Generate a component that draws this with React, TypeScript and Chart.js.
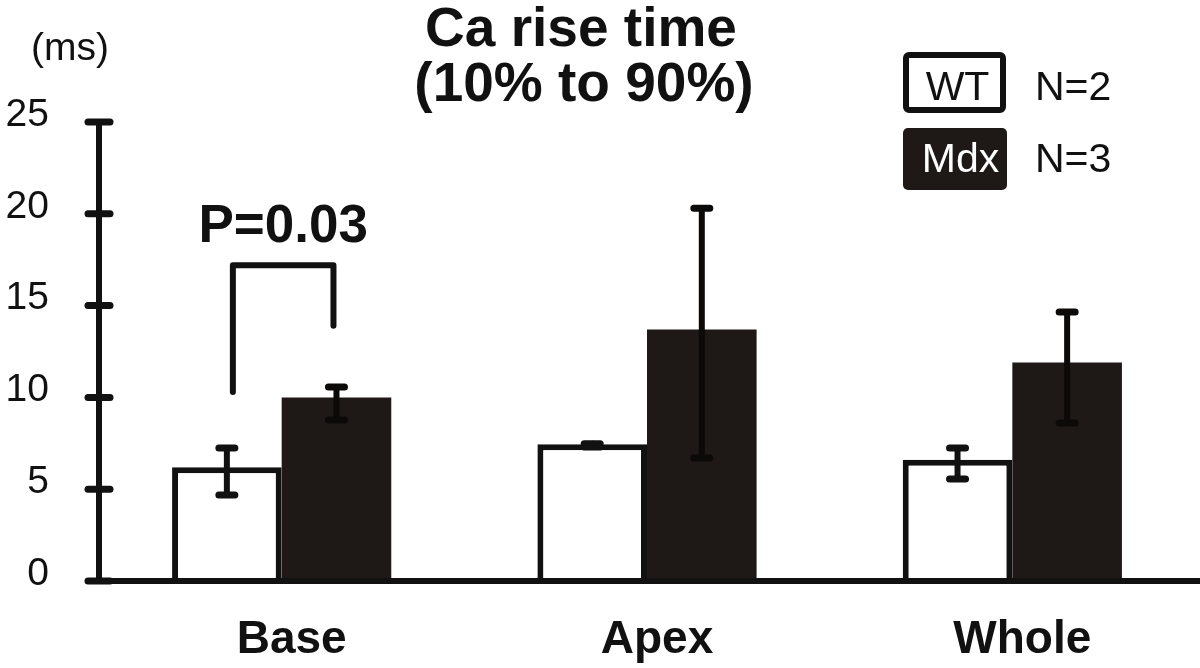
import React, { useEffect, useRef } from "react";
import { Chart, registerables } from "chart.js";

Chart.register(...registerables);

// ---- data ----
const categories = ["Base", "Apex", "Whole"];
const wtMeans = [6.2, 7.45, 6.6];
const mdxMeans = [10.0, 13.7, 11.9];
const wtErrHigh = [7.25, 7.48, 7.25];
const wtErrLow = [4.68, 7.3, 5.55];
const mdxErrHigh = [10.57, 20.3, 14.65];
const mdxErrLow = [8.77, 6.7, 8.6];
const yMin = 0;
const yMax = 25;
const yStep = 5;
const bracketValues = [10.3, 17.2, 13.9]; // left leg bottom, top, right leg bottom
const titleLines = ["Ca rise time", "(10% to 90%)"];
const unitLabel = "(ms)";
const pLabel = "P=0.03";
const legendLabels = ["WT", "Mdx"];
const legendCounts = ["N=2", "N=3"];

// ---- style ----
const INK = "#111111";
const MDX_FILL = "#1e1816";
const FONT = "'Liberation Sans', Arial, Helvetica, sans-serif";

const decor = {
  id: "decor",
  afterDatasetsDraw(chart: any) {
    const ctx = chart.ctx as CanvasRenderingContext2D;
    const y = chart.scales.y;
    const area = chart.chartArea;
    ctx.save();
    ctx.strokeStyle = INK;
    ctx.lineCap = "round";
    ctx.lineWidth = 6;

    // error bars
    const drawErr = (dsIndex: number, highs: number[], lows: number[]) => {
      const meta = chart.getDatasetMeta(dsIndex);
      meta.data.forEach((bar: any, i: number) => {
        const px = bar.x;
        const yh = y.getPixelForValue(highs[i]);
        const yl = y.getPixelForValue(lows[i]);
        ctx.strokeStyle = dsIndex === 1 ? "#0c0a09" : INK;
        ctx.lineWidth = 6;
        ctx.beginPath();
        ctx.moveTo(px, yh);
        ctx.lineTo(px, yl);
        ctx.stroke();
        ctx.lineWidth = 7;
        ctx.beginPath();
        ctx.moveTo(px - 8, yh);
        ctx.lineTo(px + 8, yh);
        ctx.moveTo(px - 8, yl);
        ctx.lineTo(px + 8, yl);
        ctx.stroke();
      });
    };
    drawErr(0, wtErrHigh, wtErrLow);
    drawErr(1, mdxErrHigh, mdxErrLow);
    ctx.strokeStyle = INK;

    // axes
    const x0 = area.left;
    const yTop = y.getPixelForValue(yMax);
    const yBot = y.getPixelForValue(yMin);
    ctx.lineWidth = 6;
    ctx.lineCap = "butt";
    ctx.beginPath();
    ctx.moveTo(x0, yTop);
    ctx.lineTo(x0, yBot);
    ctx.stroke();
    ctx.lineCap = "round";
    ctx.beginPath();
    ctx.moveTo(x0 - 11, yBot);
    ctx.lineTo(chart.width + 10, yBot);
    ctx.stroke();
    ctx.lineWidth = 7;
    y.ticks.forEach((t: any) => {
      const py = y.getPixelForValue(t.value);
      ctx.beginPath();
      ctx.moveTo(x0 - 11, py);
      ctx.lineTo(x0 + 11, py);
      ctx.stroke();
    });

    // significance bracket (Base)
    const wtBar = chart.getDatasetMeta(0).data[0];
    const mdxBar = chart.getDatasetMeta(1).data[0];
    const lx = wtBar.x + 6;
    const rx = mdxBar.x - 3;
    ctx.lineWidth = 6;
    ctx.lineJoin = "round";
    ctx.beginPath();
    ctx.moveTo(lx, y.getPixelForValue(bracketValues[0]));
    ctx.lineTo(lx, y.getPixelForValue(bracketValues[1]));
    ctx.lineTo(rx, y.getPixelForValue(bracketValues[1]));
    ctx.lineTo(rx, y.getPixelForValue(bracketValues[2]));
    ctx.stroke();

    // texts
    ctx.fillStyle = INK;
    ctx.textBaseline = "alphabetic";
    ctx.textAlign = "center";
    ctx.font = `bold 53px ${FONT}`;
    ctx.fillText(pLabel, (lx + rx) / 2, 242);

    ctx.font = `bold 55px ${FONT}`;
    ctx.fillText(titleLines[0], 581, 46);
    ctx.fillText(titleLines[1], 584, 101);

    ctx.textAlign = "left";
    ctx.font = `39px ${FONT}`;
    ctx.fillText(unitLabel, 31, 60);

    // legend
    const boxX = 903;
    const boxW = 103;
    const boxH = 61;
    const boxYs = [52, 128];
    const baselines = [100, 172];
    // WT box
    ctx.lineWidth = 6;
    ctx.strokeStyle = INK;
    ctx.fillStyle = "#ffffff";
    ctx.beginPath();
    ctx.roundRect(boxX + 3, boxYs[0] + 3, boxW - 6, boxH - 6, 3);
    ctx.fill();
    ctx.stroke();
    // Mdx box
    ctx.fillStyle = MDX_FILL;
    ctx.beginPath();
    ctx.roundRect(boxX, boxYs[1], boxW + 1, boxH + 1, 5);
    ctx.fill();

    ctx.font = `41px ${FONT}`;
    ctx.textAlign = "center";
    ctx.fillStyle = INK;
    ctx.fillText(legendLabels[0], boxX + boxW / 2 + 3, baselines[0]);
    ctx.fillStyle = "#ffffff";
    ctx.fillText(legendLabels[1], boxX + boxW / 2 + 6, baselines[1]);
    ctx.fillStyle = INK;
    ctx.textAlign = "left";
    ctx.fillText(legendCounts[0], 1035, baselines[0]);
    ctx.fillText(legendCounts[1], 1035, baselines[1]);

    ctx.restore();
  },
};

export default function App() {
  const canvasRef = useRef<HTMLCanvasElement | null>(null);

  useEffect(() => {
    document.body.style.margin = "0";
    const canvas = canvasRef.current;
    if (!canvas) return;
    const chart = new Chart(canvas, {
      type: "bar",
      data: {
        labels: categories,
        datasets: [
          {
            label: "WT",
            data: wtMeans,
            backgroundColor: "#ffffff",
            borderColor: INK,
            borderWidth: 6,
            borderSkipped: "start",
          },
          {
            label: "Mdx",
            data: mdxMeans,
            backgroundColor: MDX_FILL,
            borderColor: MDX_FILL,
            borderWidth: 0,
            borderSkipped: "start",
          },
        ],
      },
      options: {
        responsive: false,
        animation: false,
        devicePixelRatio: 1,
        layout: { padding: { top: 122, right: 5, left: 0, bottom: 0 } },
        datasets: { bar: { categoryPercentage: 0.6, barPercentage: 1 } },
        plugins: {
          legend: { display: false },
          title: { display: false },
          tooltip: { enabled: false },
        },
        scales: {
          x: {
            grid: { display: false, drawTicks: false },
            border: { display: false },
            ticks: {
              color: INK,
              font: { family: FONT, size: 46, weight: "bold" },
              padding: 32,
              labelOffset: 10,
            },
            afterFit: (s: any) => {
              s.height = 87;
            },
          },
          y: {
            min: yMin,
            max: yMax,
            grid: { display: false, drawTicks: false },
            border: { display: false },
            ticks: {
              stepSize: yStep,
              color: INK,
              font: { family: FONT, size: 39 },
              padding: 50,
              labelOffset: -7,
            },
            afterFit: (s: any) => {
              s.width = 99;
            },
          },
        },
      } as any,
      plugins: [decor],
    });
    return () => chart.destroy();
  }, []);

  return (
    <div style={{ position: "absolute", left: 0, top: 0, width: 1200, height: 668, background: "#ffffff" }}>
      <canvas ref={canvasRef} width={1200} height={668} style={{ width: 1200, height: 668, display: "block" }} />
    </div>
  );
}
